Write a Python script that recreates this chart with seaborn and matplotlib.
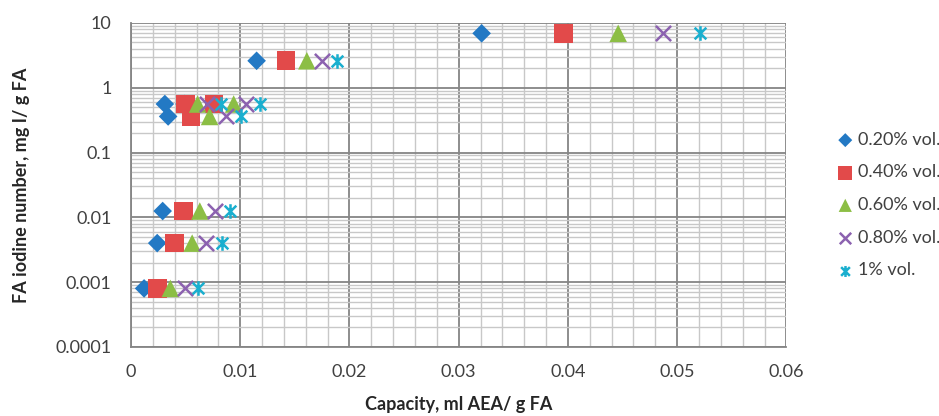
import numpy as np
import pandas as pd
import matplotlib
matplotlib.use("Agg")
import matplotlib.pyplot as plt
from matplotlib.path import Path
from matplotlib.ticker import FixedLocator, LogLocator, NullFormatter, FuncFormatter
import seaborn as sns

# Data
iodine = [6.9, 2.6, 0.56, 0.56, 0.36, 0.0125, 0.004, 0.0008]

cap_020 = [0.0321, 0.0115, 0.0031, 0.0049, 0.0034, 0.0029, 0.0024, 0.0012]
cap_040 = [0.0396, 0.0142, 0.0050, 0.0076, 0.0055, 0.0048, 0.0040, 0.0024]
cap_060 = [0.0446, 0.0161, 0.0061, 0.0094, 0.0072, 0.0063, 0.0056, 0.0036]
cap_080 = [0.0487, 0.0175, 0.0070, 0.0105, 0.0087, 0.0077, 0.0069, 0.0049]
cap_100 = [0.0521, 0.0189, 0.0082, 0.0118, 0.0101, 0.0091, 0.0083, 0.0061]

labels = ["0.20% vol.", "0.40% vol.", "0.60% vol.", "0.80% vol.", "1% vol."]
x_ticks = [0, 0.01, 0.02, 0.03, 0.04, 0.05, 0.06]
y_ticks = [0.0001, 0.001, 0.01, 0.1, 1, 10]

df = pd.concat([
    pd.DataFrame({"capacity": c, "iodine": iodine, "series": lab})
    for c, lab in zip([cap_020, cap_040, cap_060, cap_080, cap_100], labels)
])

# Excel-like asterisk: an X with a vertical bar
star = Path(
    [(-1, -1), (1, 1), (-1, 1), (1, -1), (0, -1.25), (0, 1.25)],
    [Path.MOVETO, Path.LINETO, Path.MOVETO, Path.LINETO, Path.MOVETO, Path.LINETO],
)

styles = {
    "0.20% vol.": dict(marker="D", color="#2379C4", s=90),
    "0.40% vol.": dict(marker="s", color="#E24A4A", s=180),
    "0.60% vol.": dict(marker="^", color="#8CBE45", s=160),
    "0.80% vol.": dict(marker="x", color="#8C62B0", s=120, linewidths=1.8),
    "1% vol.": dict(marker=star, color="#1AAFCF", s=110, linewidths=1.8),
}

sns.set_style("white")
plt.rcParams["font.family"] = ["Lato", "DejaVu Sans"]

fig = plt.figure(figsize=(9.39, 4.16), dpi=100)
ax = fig.add_axes([0.1395, 0.166, 0.698, 0.779])

for lab in labels:
    st = styles[lab]
    sub = df[df["series"] == lab]
    sns.scatterplot(
        data=sub, x="capacity", y="iodine", ax=ax, label=lab,
        marker=st["marker"], color=st["color"], s=st["s"],
        linewidth=st.get("linewidths", 0), edgecolor=st["color"] if "linewidths" in st else "none",
        zorder=3,
    )

ax.set_yscale("log")
ax.set_xlim(0, 0.06)
ax.set_ylim(0.0001, 10)

ax.xaxis.set_major_locator(FixedLocator(x_ticks))
ax.xaxis.set_minor_locator(FixedLocator(np.arange(0, 0.0601, 0.002)))
ax.xaxis.set_major_formatter(FuncFormatter(lambda v, p: "0" if v == 0 else f"{v:g}"))
ax.yaxis.set_major_locator(FixedLocator(y_ticks))
ax.yaxis.set_minor_locator(LogLocator(base=10, subs=np.arange(2, 10)))
ax.yaxis.set_minor_formatter(NullFormatter())
ax.yaxis.set_major_formatter(FuncFormatter(lambda v, p: f"{v:g}" if v >= 0.001 else "0.0001"))

ax.grid(which="major", color="#858585", linewidth=1.3)
ax.grid(which="minor", color="#c8c8c8", linewidth=1.0)
ax.set_axisbelow(True)

for side in ["top", "right"]:
    ax.spines[side].set_visible(False)
for side in ["left", "bottom"]:
    ax.spines[side].set_color("#858585")
    ax.spines[side].set_linewidth(1.3)

ax.tick_params(axis="both", which="major", length=6, color="#858585", width=1.0,
               labelsize=13, labelcolor="#404040")
ax.tick_params(axis="both", which="minor", length=0)
ax.tick_params(axis="x", pad=6)
ax.tick_params(axis="y", pad=8)

ax.set_xlabel("Capacity, ml AEA/ g FA", fontsize=13, fontweight="bold", labelpad=12)
ax.set_ylabel("FA iodine number, mg I/ g FA", fontsize=13, fontweight="bold", labelpad=18)

ax.legend(loc="center left", bbox_to_anchor=(0.88, 0.507), bbox_transform=fig.transFigure,
          frameon=False, fontsize=13, labelspacing=0.92, handletextpad=0.15,
          borderpad=0, handlelength=1.1, markerscale=0.75, labelcolor="#404040")

plt.savefig("out.png", dpi=100)
